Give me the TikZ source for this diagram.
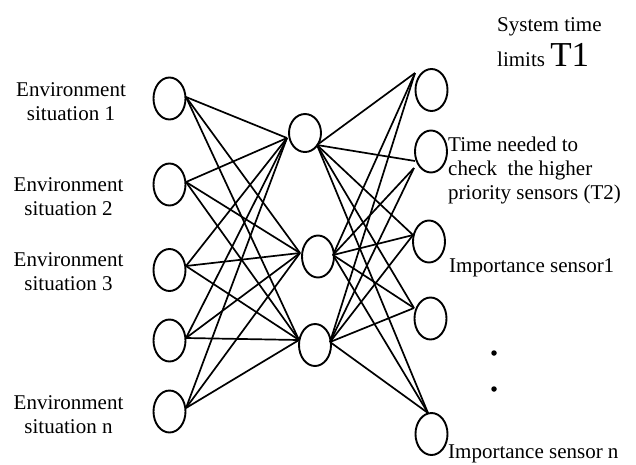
\documentclass[tikz,border=0pt]{standalone}
\usepackage{fontspec}
\setmainfont{Liberation Serif}
\usetikzlibrary{shapes.geometric}
\begin{document}
\begin{tikzpicture}[x=1pt,y=-1pt,
  neuron/.style={draw,ellipse,line width=1.9pt,minimum width=32pt,minimum height=42pt,inner sep=0pt},
  link/.style={line width=1.7pt},
  lbl/.style={font=\fontsize{21}{24}\selectfont,inner sep=0pt},
  dotmark/.style={circle,fill,inner sep=0pt,minimum size=5.5pt}]
\useasboundingbox (0,0) rectangle (636,464);
% neurons
\node[neuron] (L1) at (169.5,98.5) {};
\node[neuron] (L2) at (169.5,184.5) {};
\node[neuron] (L3) at (169.5,270) {};
\node[neuron] (L4) at (169.5,340.5) {};
\node[neuron] (L5) at (169.5,411.5) {};
\node[neuron,minimum height=38pt] (M1) at (305,133) {};
\node[neuron] (M2) at (318,256.5) {};
\node[neuron] (M3) at (315,345) {};
\node[neuron] (R1) at (431.5,90) {};
\node[neuron] (R2) at (431,151.5) {};
\node[neuron] (R3) at (429,241.5) {};
\node[neuron] (R4) at (430.5,318.5) {};
\node[neuron] (R5) at (431.5,434) {};
% connection points
\coordinate (l1) at (186,97);
\coordinate (l2) at (186,182);
\coordinate (l3) at (186,266);
\coordinate (l4) at (186,338);
\coordinate (l5) at (186,408);
\coordinate (m1w) at (287,138);
\coordinate (m2w) at (300,253);
\coordinate (m3w) at (299,340);
\coordinate (m1e) at (317,145);
\coordinate (m2e) at (333,255);
\coordinate (m3e) at (330,342);
\coordinate (r1) at (415,73);
\coordinate (r2a) at (415,161);
\coordinate (r2b) at (414,168);
\coordinate (r3) at (413,235);
\coordinate (r4) at (414,308);
\coordinate (r5) at (428,413);
% connectors
\foreach \a in {l1,l2,l3,l4,l5}
  \foreach \b in {m1w,m2w,m3w}
    \draw[link] (\a) -- (\b);
\foreach \b in {r1,r2a,r3,r4,r5}
  \draw[link] (m1e) -- (\b);
\foreach \a in {m2e,m3e}
  \foreach \b in {r1,r2b,r3,r4,r5}
    \draw[link] (\a) -- (\b);
% labels
\node[lbl,align=center,anchor=base] (t1) at (71,120) {Environment\\situation 1};
\node[lbl,align=center,anchor=base] (t2) at (68.5,215) {Environment\\situation 2};
\node[lbl,align=center,anchor=base] (t3) at (68.5,290) {Environment\\situation 3};
\node[lbl,align=center,anchor=base] (tn) at (68.5,433) {Environment\\situation n};
\node[lbl,align=left,anchor=base west] (sys) at (497,66) {System time\\[6pt]limits {\fontsize{35}{36}\selectfont T1}};
\node[lbl,align=left,anchor=base west] (t2lbl) at (448,199) {Time needed to\\check~ the higher\\priority sensors (T2)};
\node[lbl,anchor=base west] (is1) at (449,272) {Importance sensor1};
\node[lbl,anchor=base west] (isn) at (448,458) {Importance sensor n};
\node[dotmark] (d1) at (494,353) {};
\node[dotmark] (d2) at (494,389) {};
\end{tikzpicture}
\end{document}
